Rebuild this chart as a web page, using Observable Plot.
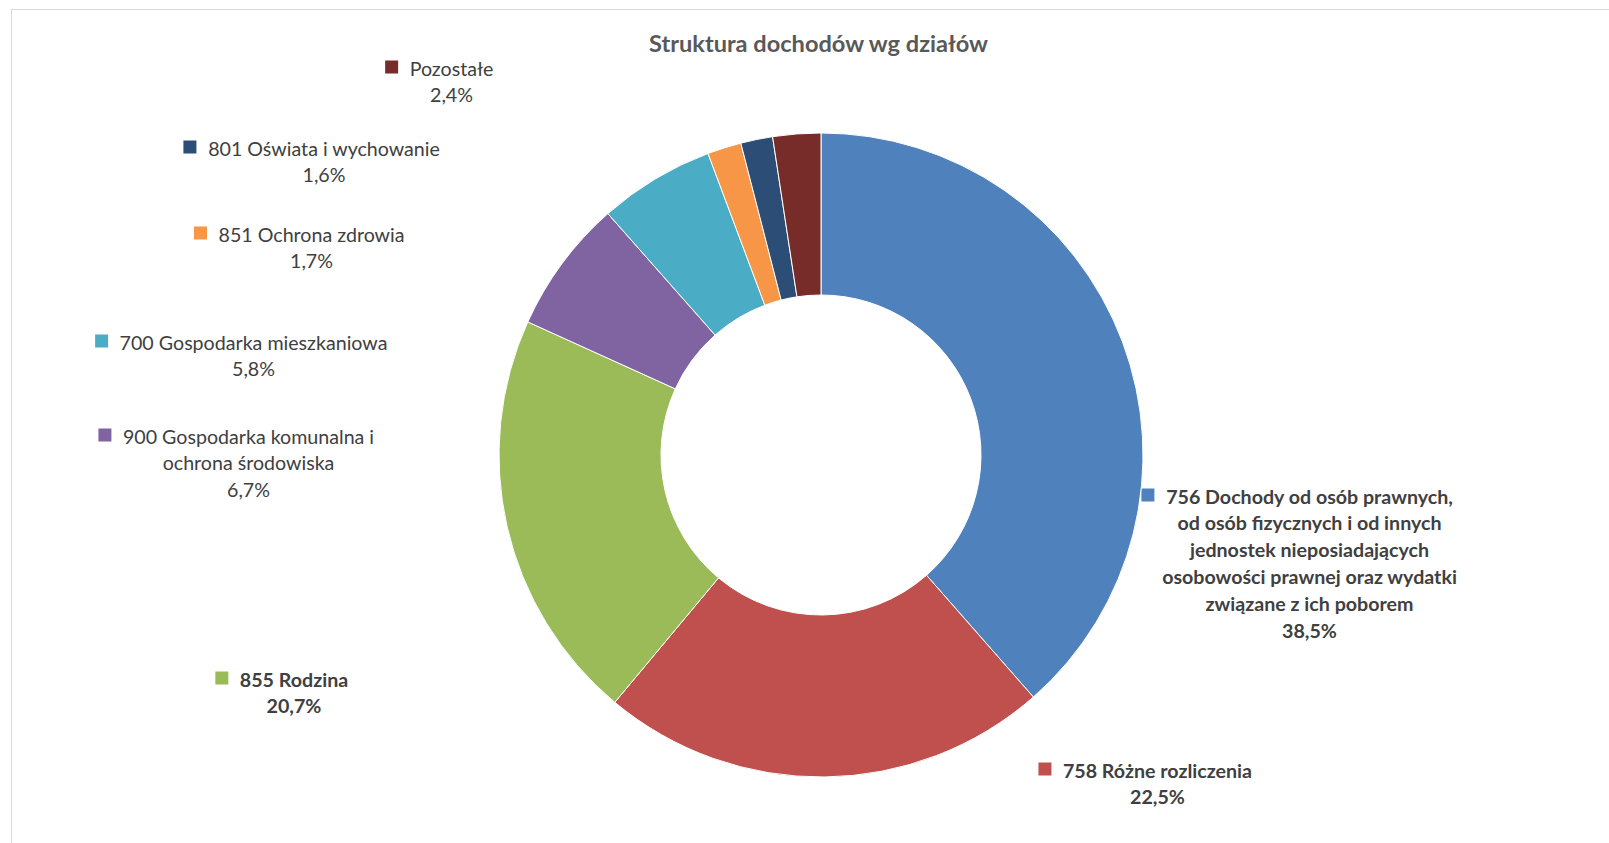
<!DOCTYPE html>
<html>
<head>
<meta charset="utf-8">
<script src="https://cdn.jsdelivr.net/npm/d3@7"></script>
<script src="https://cdn.jsdelivr.net/npm/@observablehq/plot@0.6"></script>
<style>
  html, body { margin: 0; padding: 0; background: #fff; overflow: hidden; }
  #wrap { position: relative; width: 1609px; height: 843px; }
  #frame { position: absolute; left: 11px; top: 9px; right: -5px; bottom: -5px; border-left: 1.5px solid #d9d9d9; border-top: 1.5px solid #d9d9d9; pointer-events: none; }
  #chart { position: absolute; left: 0; top: 0; }
</style>
</head>
<body>
<div id="wrap"><div id="chart"></div><div id="frame"></div></div>
<script>
// ---- data ----
const title = "Struktura dochodów wg działów";
const categories = [
  "756 Dochody od osób prawnych,\nod osób fizycznych i od innych\njednostek nieposiadających\nosobowości prawnej oraz wydatki\nzwiązane z ich poborem",
  "758 Różne rozliczenia",
  "855 Rodzina",
  "900 Gospodarka komunalna i\nochrona środowiska",
  "700 Gospodarka mieszkaniowa",
  "851 Ochrona zdrowia",
  "801 Oświata i wychowanie",
  "Pozostałe"
];
const shares = [38.5, 22.5, 20.7, 6.7, 5.8, 1.7, 1.6, 2.4];
const percentLabels = ["38,5%", "22,5%", "20,7%", "6,7%", "5,8%", "1,7%", "1,6%", "2,4%"];
const colors = ["#4F81BD", "#C0504D", "#9BBB59", "#8064A2", "#4BACC6", "#F79646", "#2C4D75", "#772C2A"];

// ---- layout (pixels) ----
const W = 1609, H = 843;
const center = {x: 821, y: 455};
const outerR = 322, innerR = 160;
const labelLayout = [
  {cx: 1309, y: 503, bold: true},
  {cx: 1157, y: 777, bold: true},
  {cx: 293.5, y: 686, bold: true},
  {cx: 248, y: 443, bold: false},
  {cx: 253, y: 349, bold: false},
  {cx: 311, y: 241, bold: false},
  {cx: 323.5, y: 155, bold: false},
  {cx: 451, y: 75, bold: false}
];
const lineStep = 26.9;
const FONT = "Lato";

// fit font sizes to the reference text widths
const ctx = document.createElement("canvas").getContext("2d");
function measure(t, font) { ctx.font = font; return ctx.measureText(t).width; }
const labelSize = 20 * 268 / measure("700 Gospodarka mieszkaniowa", `20px ${FONT}`);
const titleSize = 20 * 340 / measure(title, `bold 20px ${FONT}`);

const slices = categories.map((c, i) => ({name: c, value: shares[i], color: colors[i], pct: percentLabels[i]}));
const pie = d3.pie().sort(null).value(d => d.value)(slices);
const arc = d3.arc().innerRadius(innerR).outerRadius(outerR);

// text rows and keys
const textRows = [];
const keys = [];
slices.forEach((s, i) => {
  const L = labelLayout[i];
  const lines = s.name.split("\n").concat([s.pct]);
  lines.forEach((t, k) => textRows.push({x: L.cx, y: L.y + k * lineStep, text: t, bold: L.bold}));
  const w = measure(lines[0], `${L.bold ? "bold " : ""}${labelSize}px ${FONT}`);
  const x2 = L.cx - w / 2 - 11;
  const yc = L.y - 8;
  keys.push({x1: x2 - 13, x2: x2, y1: yc - 6.5, y2: yc + 6.5, color: s.color});
});

function donutMark(index, scales) {
  const sx = scales && scales.x ? scales.x : (v => v);
  const sy = scales && scales.y ? scales.y : (v => v);
  const g = d3.create("svg:g").attr("transform", `translate(${sx(center.x)},${sy(center.y)})`);
  g.selectAll("path").data(pie).join("path")
    .attr("d", arc)
    .attr("fill", d => d.data.color)
    .attr("stroke", "#fff")
    .attr("stroke-width", 1);
  return g.node();
}

const plot = Plot.plot({
  width: W, height: H, margin: 0,
  style: {background: "transparent", overflow: "visible"},
  x: {type: "linear", domain: [0, W], range: [0, W], axis: null},
  y: {type: "linear", domain: [0, H], range: [0, H], axis: null},
  marks: [
    Plot.rect(keys, {x1: "x1", x2: "x2", y1: "y1", y2: "y2", fill: "color"}),
    donutMark,
    Plot.text([title], {x: () => 818, y: () => 51, text: d => d, fontWeight: "bold", fontSize: titleSize, fontFamily: FONT, fill: "#595959", lineAnchor: "bottom", textAnchor: "middle"}),
    Plot.text(textRows.filter(d => !d.bold), {x: "x", y: "y", text: "text", fontSize: labelSize, fontFamily: FONT, fill: "#404040", lineAnchor: "bottom", textAnchor: "middle"}),
    Plot.text(textRows.filter(d => d.bold), {x: "x", y: "y", text: "text", fontSize: labelSize, fontWeight: "bold", fontFamily: FONT, fill: "#404040", lineAnchor: "bottom", textAnchor: "middle"})
  ]
});
document.getElementById("chart").appendChild(plot);
</script>
</body>
</html>
